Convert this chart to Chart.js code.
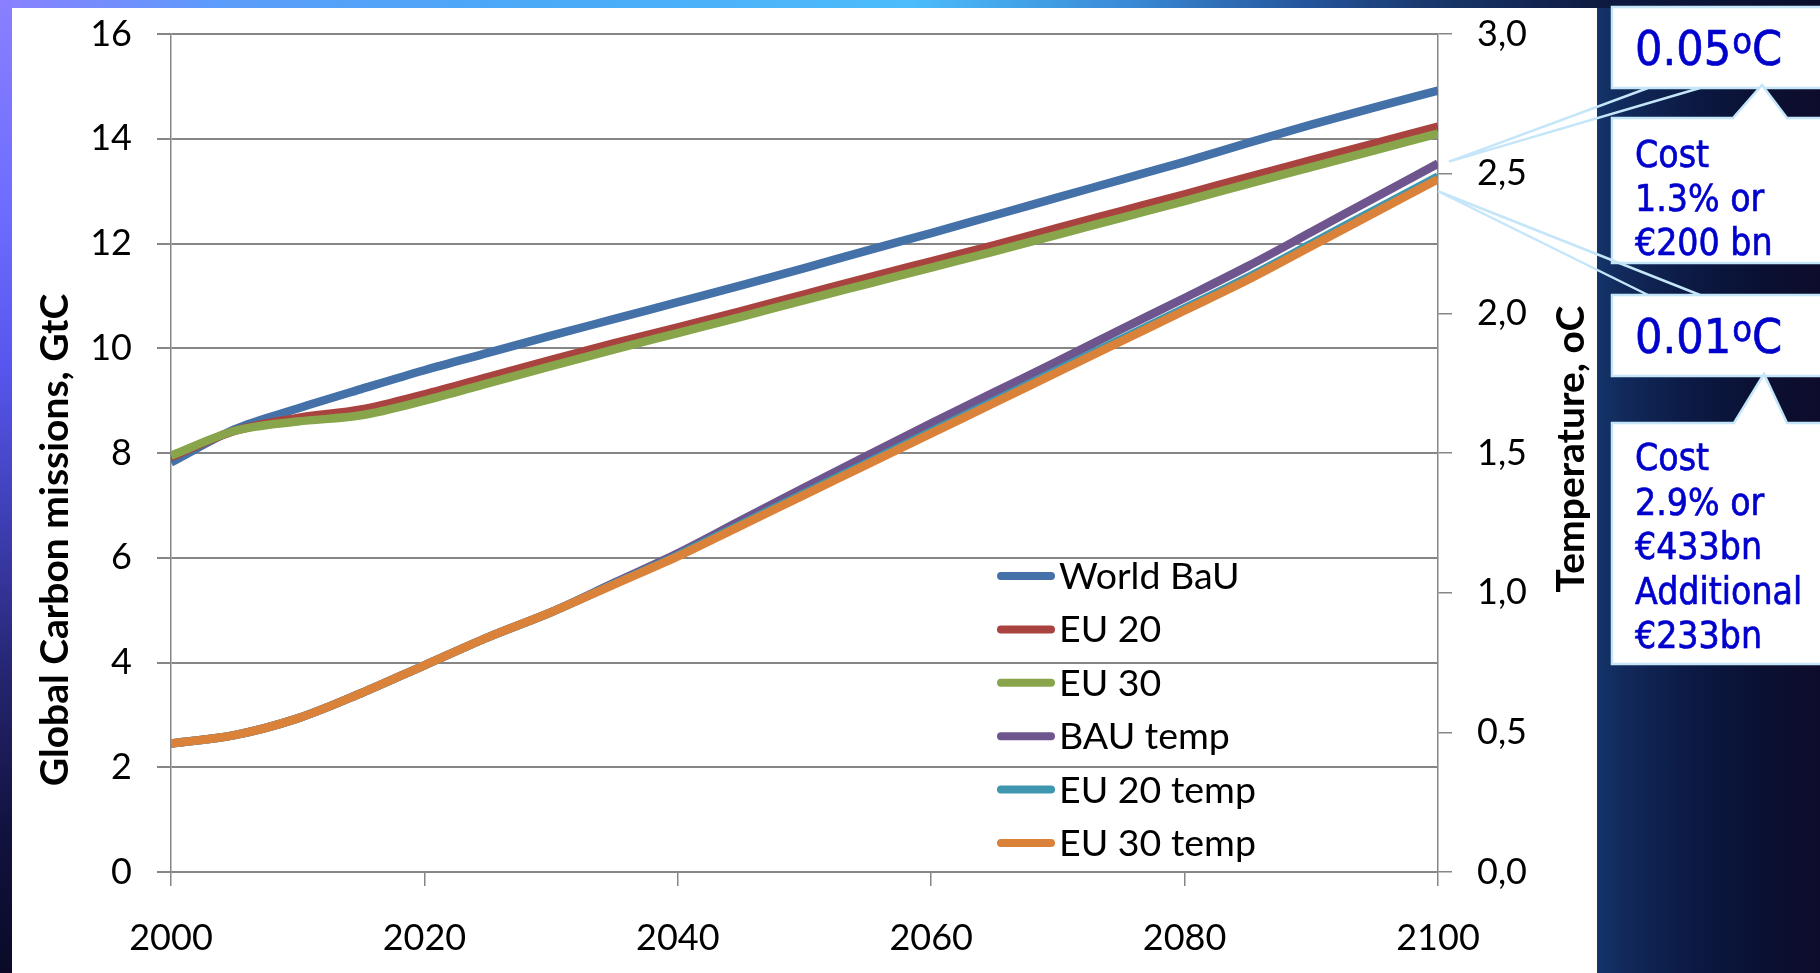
<!DOCTYPE html>
<html>
<head>
<meta charset="utf-8">
<script src="https://cdn.jsdelivr.net/npm/chart.js@4.4.0/dist/chart.umd.min.js"></script>
<style>
  html, body { margin: 0; padding: 0; width: 1820px; height: 973px; overflow: hidden; }
  body {
    background: linear-gradient(to right, #14346a 0px, #14346a 1597px, #11295a 1625px, #0c1a44 1690px, #0a1032 1760px, #0e0c2c 1820px);
  }
  #topband { position: absolute; left: 0; top: 0; width: 1820px; height: 8px;
    background: linear-gradient(to right, #8a80ff 0%, #5c9cfa 12%, #4aaaf8 30%, #4cbcfb 50%, #3a8ad6 62%, #24549a 72%, #1a3a70 78%, #0e1a40 88%, #0a0e2c 100%); }
  #leftband { position: absolute; left: 0; top: 0; width: 12px; height: 973px;
    background: linear-gradient(to bottom, #8a80ff 0%, #6c6cff 22%, #5656ee 38%, #3c3cae 55%, #24246e 70%, #121240 85%, #0a0a28 100%); }
  #panel { position: absolute; left: 12px; top: 8px; width: 1585px; height: 965px; background: #ffffff; }
  #wrap { position: absolute; left: 0; top: 0; width: 1820px; height: 973px; }
</style>
</head>
<body>
<div id="topband"></div>
<div id="leftband"></div>
<div id="panel"></div>
<div id="wrap"><canvas id="chart"></canvas></div>
<script>
// Years on the horizontal axis
const years = [2000, 2005, 2010, 2015, 2020, 2025, 2030, 2035, 2040, 2045, 2050,
               2055, 2060, 2065, 2070, 2075, 2080, 2085, 2090, 2095, 2100];

// Global carbon emissions, GtC (left axis)
const worldBaU = [7.82, 8.45, 8.85, 9.22, 9.58, 9.91, 10.24, 10.56, 10.88, 11.20, 11.53,
                  11.87, 12.20, 12.54, 12.88, 13.22, 13.56, 13.92, 14.27, 14.60, 14.92];
const eu20     = [7.92, 8.42, 8.67, 8.83, 9.12, 9.45, 9.78, 10.10, 10.40, 10.71, 11.03,
                  11.35, 11.66, 11.97, 12.30, 12.62, 12.94, 13.27, 13.59, 13.91, 14.23];
const eu30     = [7.95, 8.42, 8.60, 8.72, 9.00, 9.33, 9.66, 9.98, 10.29, 10.60, 10.92,
                  11.23, 11.54, 11.85, 12.17, 12.49, 12.81, 13.14, 13.46, 13.78, 14.10];

// Temperature, oC (right axis)
const bauTemp  = [0.46, 0.49, 0.55, 0.64, 0.74, 0.84, 0.93, 1.036, 1.141, 1.259, 1.376,
                  1.492, 1.606, 1.718, 1.829, 1.943, 2.055, 2.169, 2.291, 2.414, 2.536];
const eu20Temp = [0.46, 0.49, 0.55, 0.64, 0.74, 0.84, 0.93, 1.032, 1.134, 1.245, 1.356,
                  1.466, 1.577, 1.687, 1.798, 1.908, 2.018, 2.129, 2.249, 2.370, 2.490];
const eu30Temp = [0.46, 0.49, 0.55, 0.64, 0.74, 0.84, 0.93, 1.03, 1.13, 1.24, 1.35,
                  1.46, 1.57, 1.68, 1.79, 1.90, 2.01, 2.12, 2.24, 2.36, 2.48];

const seriesNames  = ['World BaU', 'EU 20', 'EU 30', 'BAU temp', 'EU 20 temp', 'EU 30 temp'];
const seriesColors = ['#4471a8', '#a9433f', '#88a54b', '#6f558e', '#3e97af', '#db823a'];
const seriesValues = [worldBaU, eu20, eu30, bauTemp, eu20Temp, eu30Temp];
const seriesAxes   = ['y', 'y', 'y', 'y1', 'y1', 'y1'];

// Axis ranges and tick steps
const emissionRange = [0, 16], emissionStep = 2;
const tempRange = [0, 3], tempStep = 0.5;
const yearRange = [2000, 2100], yearStep = 20;

// Axis titles and callout texts
const leftTitle = 'Global Carbon missions, GtC';
const rightTitle = 'Temperature, oC';
const calloutTop = { big: '0.05', sup: 'o', unit: 'C', lines: ['Cost', '1.3% or', '€200 bn'] };
const calloutBottom = { big: '0.01', sup: 'o', unit: 'C', lines: ['Cost', '2.9% or', '€433bn', 'Additional', '€233bn'] };

const GRID = '#868686';
const TICK_FONT = { family: 'Lato', size: 36 };
// vertical-axis labels: compact line box so the label overhang stays inside the top margin
const Y_TICK_FONT = { family: 'Lato', size: 36, lineHeight: 0.4 };

const datasets = seriesNames.map((name, i) => ({
  label: name,
  data: seriesValues[i].map((v, k) => ({ x: years[k], y: v })),
  yAxisID: seriesAxes[i],
  borderColor: seriesColors[i],
  backgroundColor: seriesColors[i],
  borderWidth: 8.5,
  pointRadius: 0,
  pointHoverRadius: 0,
  cubicInterpolationMode: 'monotone',
  borderJoinStyle: 'round',
  fill: false,
  order: seriesNames.length - i   // later series drawn on top
}));

// Axis titles, both reading bottom-to-top
const axisTitles = {
  id: 'axisTitles',
  afterDraw(chart) {
    const ctx = chart.ctx;
    const a = chart.chartArea;
    const mid = (a.top + a.bottom) / 2;
    ctx.save();
    ctx.fillStyle = '#000';
    ctx.textAlign = 'center';
    ctx.textBaseline = 'alphabetic';
    ctx.font = 'bold 39px Lato';
    ctx.translate(68, mid + 87);
    ctx.rotate(-Math.PI / 2);
    ctx.fillText(leftTitle, 0, 0);
    ctx.restore();

    ctx.save();
    ctx.fillStyle = '#000';
    ctx.textAlign = 'center';
    ctx.textBaseline = 'alphabetic';
    ctx.font = 'bold 39px Lato';
    ctx.translate(a.right + 146, mid - 4);
    ctx.rotate(-Math.PI / 2);
    ctx.fillText(rightTitle, 0, 0);
    ctx.restore();
  }
};

// Legend drawn inside the plot area
const innerLegend = {
  id: 'innerLegend',
  afterDatasetsDraw(chart) {
    const ctx = chart.ctx;
    const a = chart.chartArea;
    const x0 = a.left + 826, y0 = a.top + 542, rowH = 53.4;
    ctx.save();
    chart.data.datasets.forEach((ds, i) => {
      const y = y0 + i * rowH;
      ctx.strokeStyle = ds.borderColor;
      ctx.lineWidth = 8;
      ctx.lineCap = 'round';
      ctx.beginPath();
      ctx.moveTo(x0 + 4, y);
      ctx.lineTo(x0 + 54, y);
      ctx.stroke();
      ctx.fillStyle = '#000';
      ctx.font = '37.5px Lato';
      ctx.textAlign = 'left';
      ctx.textBaseline = 'alphabetic';
      ctx.fillText(ds.label, x0 + 62, y + 13);
    });
    ctx.restore();
  }
};

// Callout boxes on the right of the chart
function condensed(ctx, str, x, y, size) {
  const sx = 0.9;
  ctx.save();
  ctx.font = size + 'px "DejaVu Sans"';
  ctx.translate(x, y);
  ctx.scale(sx, 1);
  ctx.fillText(str, 0, 0);
  ctx.lineWidth = 0.7;
  ctx.strokeStyle = ctx.fillStyle;
  ctx.strokeText(str, 0, 0);
  const w = ctx.measureText(str).width * sx;
  ctx.restore();
  return w;
}

function boxPath(ctx, x0, y0, x1, y1, ptr) {
  ctx.beginPath();
  ctx.moveTo(x0, y0);
  if (ptr) {
    ctx.lineTo(ptr.b0, y0);
    ctx.lineTo(ptr.ax, ptr.ay);
    ctx.lineTo(ptr.b1, y0);
  }
  ctx.lineTo(x1, y0);
  ctx.lineTo(x1, y1);
  ctx.lineTo(x0, y1);
  ctx.closePath();
  ctx.fillStyle = '#ffffff';
  ctx.fill();
  ctx.strokeStyle = '#c4e6f8';
  ctx.lineWidth = 2.5;
  ctx.stroke();
}

function wedge(ctx, xa, xb, yEdge, apex) {
  ctx.strokeStyle = '#c4e6f8';
  ctx.lineWidth = 2.5;
  ctx.beginPath();
  ctx.moveTo(xa, yEdge);
  ctx.lineTo(apex.x, apex.y);
  ctx.lineTo(xb, yEdge);
  ctx.stroke();
}

function headline(ctx, c, x, y) {
  let cx = x;
  cx += condensed(ctx, c.big, cx, y, 48);
  cx += condensed(ctx, c.sup, cx + 1, y - 12, 36) + 1;
  condensed(ctx, c.unit, cx, y, 48);
}

const callouts = {
  id: 'callouts',
  afterDraw(chart) {
    const ctx = chart.ctx;
    const xs = chart.scales.x, yt = chart.scales.y1;
    const last = years.length - 1;
    const xEnd = xs.getPixelForValue(years[last]);
    const apexHigh = { x: xEnd + 11, y: yt.getPixelForValue(bauTemp[last]) - 2 };
    const apexLow = { x: xEnd, y: yt.getPixelForValue(eu30Temp[last]) + 12 };
    const L = 1612, R = 1840, tx = 1635;
    ctx.save();

    // first headline box with its wedge
    boxPath(ctx, L, 7, R, 88, null);
    wedge(ctx, 1648, 1700, 88, apexHigh);
    // first cost box
    boxPath(ctx, L, 118, R, 263, { b0: 1733, b1: 1787, ax: 1762, ay: 85 });
    // second headline box with its wedge
    boxPath(ctx, L, 295, R, 376, null);
    wedge(ctx, 1648, 1700, 295, apexLow);
    // second cost box
    boxPath(ctx, L, 423, R, 664, { b0: 1734, b1: 1787, ax: 1764, ay: 374 });

    ctx.fillStyle = '#0000cc';
    ctx.textAlign = 'left';
    ctx.textBaseline = 'alphabetic';
    headline(ctx, calloutTop, tx, 65);
    calloutTop.lines.forEach((s, i) => condensed(ctx, s, tx, 167 + i * 44, 37));
    headline(ctx, calloutBottom, tx, 353);
    calloutBottom.lines.forEach((s, i) => condensed(ctx, s, tx, 470 + i * 44.5, 37));
    ctx.restore();
  }
};

new Chart(document.getElementById('chart'), {
  type: 'line',
  data: { datasets },
  plugins: [axisTitles, innerLegend, callouts],
  options: {
    responsive: true,
    maintainAspectRatio: false,
    animation: false,
    devicePixelRatio: 1,
    layout: { padding: { left: 0, right: 220, top: 34, bottom: 0 } },
    plugins: { legend: { display: false }, tooltip: { enabled: false } },
    scales: {
      x: {
        type: 'linear',
        min: yearRange[0], max: yearRange[1],
        afterFit(s) { s.height = 101; },
        grid: { drawOnChartArea: false, drawTicks: true, tickLength: 14, color: GRID, lineWidth: 1.5 },
        border: { display: true, color: GRID, width: 1.5 },
        ticks: { stepSize: yearStep, font: TICK_FONT, color: '#000', padding: 31, maxRotation: 0,
                 callback: v => String(v) }
      },
      y: {
        position: 'left',
        min: emissionRange[0], max: emissionRange[1],
        afterFit(s) { s.width = 171; },
        grid: { drawOnChartArea: true, drawTicks: true, tickLength: 14, color: GRID, lineWidth: 2 },
        border: { display: true, color: GRID, width: 1.5 },
        ticks: { stepSize: emissionStep, font: Y_TICK_FONT, color: '#000', padding: 25,
                 callback: v => String(v) },
        title: { display: false }
      },
      y1: {
        position: 'right',
        min: tempRange[0], max: tempRange[1],
        afterFit(s) { s.width = 162; },
        grid: { drawOnChartArea: false, drawTicks: true, tickLength: 14, color: GRID, lineWidth: 1.5 },
        border: { display: true, color: GRID, width: 1.5 },
        ticks: { stepSize: tempStep, font: Y_TICK_FONT, color: '#000', padding: 25,
                 callback: v => v.toFixed(1).replace('.', ',') },
        title: { display: false }
      }
    }
  }
});
</script>
</body>
</html>
